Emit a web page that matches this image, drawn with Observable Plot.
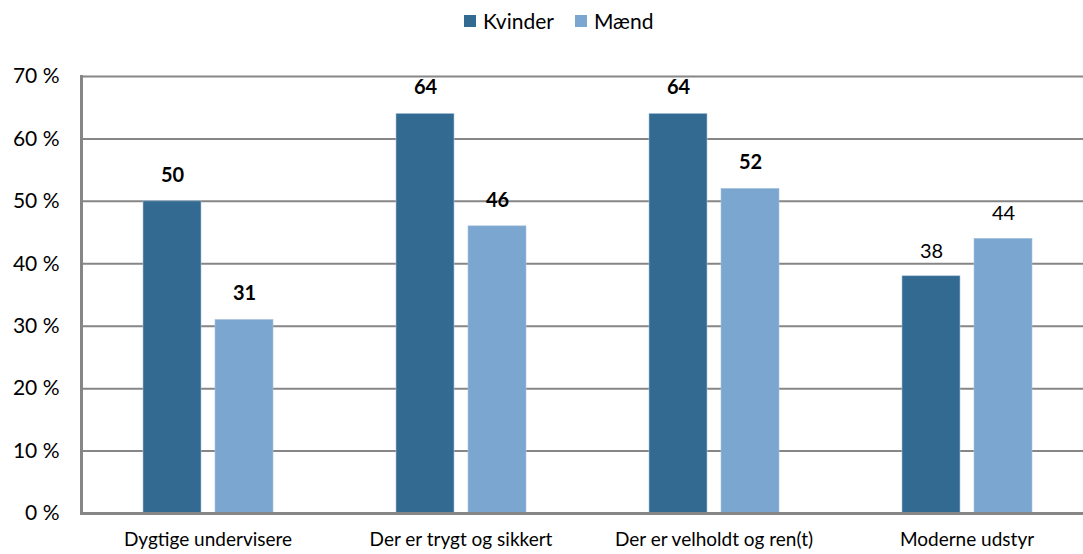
<!DOCTYPE html>
<html>
<head>
<meta charset="utf-8">
<script src="https://cdn.jsdelivr.net/npm/d3@7"></script>
<script src="https://cdn.jsdelivr.net/npm/@observablehq/plot@0.6"></script>
<style>
  html, body { margin: 0; padding: 0; background: #fff; }
  #wrap { position: relative; width: 1083px; height: 554px; overflow: hidden; font-family: Lato, "Open Sans", sans-serif; }
  #legend { position: absolute; z-index: 2; top: 8px; left: 464px; display: flex; align-items: center; font-size: 21px; color: #000; }
  #legend .sw { width: 12px; height: 12px; display: inline-block; margin-right: 7px; }
  #legend .item { display: flex; align-items: center; margin-right: 21px; }
  #chart { position: absolute; top: 0; left: 0; z-index: 1; }
  #chart svg { max-width: none !important; }
</style>
</head>
<body>
<div id="wrap">
  <div id="legend"></div>
  <div id="chart"></div>
</div>
<script>
const categories = ["Dygtige undervisere", "Der er trygt og sikkert", "Der er velholdt og ren(t)", "Moderne udstyr"];
const series = ["Kvinder", "Mænd"];
const kvinder = [50, 64, 64, 38];
const maend = [31, 46, 52, 44];
const yTicks = [0, 10, 20, 30, 40, 50, 60, 70];
const boldCategories = ["Dygtige undervisere", "Der er trygt og sikkert", "Der er velholdt og ren(t)"];
const colors = ["#336a91", "#7aa6d0"];

const data = [];
categories.forEach((c, i) => {
  data.push({category: c, series: series[0], value: kvinder[i]});
  data.push({category: c, series: series[1], value: maend[i]});
});

const legend = document.getElementById("legend");
series.forEach((s, i) => {
  const item = document.createElement("span");
  item.className = "item";
  item.innerHTML = `<span class="sw" style="background:${colors[i]}"></span>${s}`;
  legend.appendChild(item);
});

const chart = Plot.plot({
  width: 1095,
  height: 554,
  marginLeft: 79,
  marginRight: 1,
  marginTop: 76,
  marginBottom: 41,
  style: {fontFamily: "Lato, 'Open Sans', sans-serif", fontSize: "19px", color: "#000", background: "transparent", maxWidth: "none"},
  fx: {domain: categories, padding: 0, label: null, axis: "bottom", tickSize: 0, tickPadding: 19},
  x: {domain: series, paddingInner: 0.2, paddingOuter: 0.84, axis: null},
  y: {domain: [0, 70], label: null, axis: null},
  color: {domain: series, range: colors},
  marks: [
    Plot.gridY(yTicks, {stroke: "#868686", strokeOpacity: 1, strokeWidth: 2}),
    Plot.axisY(yTicks, {tickFormat: d => d + " %", label: null, tickSize: 0, tickPadding: 22, fill: "#000", fontSize: 21}),
    Plot.frame({anchor: "left", facet: "super", stroke: "#868686", strokeWidth: 3}),
    Plot.barY(data, {fx: "category", x: "series", y: "value", fill: "series", stroke: "#a9c4dd", strokeWidth: 0.6}),
    Plot.text(data.filter(d => boldCategories.includes(d.category)), {fx: "category", x: "series", y: "value", text: d => String(d.value), dy: -26, fontWeight: "bold", fontSize: 20, fill: "#000"}),
    Plot.text(data.filter(d => !boldCategories.includes(d.category)), {fx: "category", x: "series", y: "value", text: d => String(d.value), dy: -25, fontSize: 20, fill: "#000"}),
    Plot.ruleY([0], {stroke: "#868686", strokeWidth: 3})
  ]
});
document.getElementById("chart").appendChild(chart);
</script>
</body>
</html>
